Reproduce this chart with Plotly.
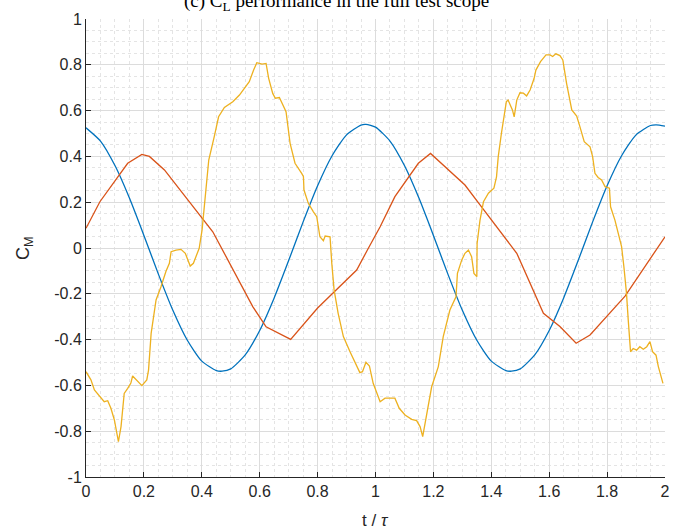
import plotly.graph_objects as go

# ---- data ----
blue_t = [0.0, 0.05, 0.1, 0.15, 0.2, 0.25, 0.3, 0.35, 0.4, 0.45, 0.47, 0.5, 0.55, 0.6, 0.65, 0.7, 0.75, 0.8, 0.85, 0.9, 0.95, 0.967,
          1.0, 1.05, 1.1, 1.15, 1.2, 1.25, 1.3, 1.35, 1.4, 1.45, 1.47, 1.5, 1.55, 1.6, 1.65, 1.7, 1.75, 1.8, 1.85, 1.9, 1.95, 1.97, 2.0]
blue_v = [0.525, 0.467, 0.360, 0.218, 0.055, -0.114, -0.272, -0.403, -0.494, -0.535, -0.538, -0.528, -0.467, -0.360, -0.218, -0.055, 0.114, 0.272, 0.403, 0.494, 0.537, 0.540,
          0.528, 0.467, 0.360, 0.218, 0.055, -0.114, -0.272, -0.403, -0.494, -0.535, -0.538, -0.528, -0.467, -0.360, -0.218, -0.055, 0.114, 0.272, 0.403, 0.494, 0.535, 0.538, 0.532]

orange_t = [0.0, 0.048, 0.144, 0.193, 0.219, 0.271, 0.438, 0.509, 0.576, 0.622, 0.707, 0.80, 0.935, 0.972, 1.016, 1.067,
            1.148, 1.19, 1.309, 1.361, 1.488, 1.58, 1.637, 1.693, 1.741, 1.862, 1.971, 2.0]
orange_v = [0.086, 0.202, 0.370, 0.409, 0.400, 0.341, 0.071, -0.096, -0.256, -0.344, -0.399, -0.262, -0.096, -0.009, 0.093, 0.224,
            0.370, 0.413, 0.275, 0.188, -0.023, -0.285, -0.343, -0.416, -0.380, -0.210, -0.009, 0.049]

yellow_t = [0.0, 0.017, 0.029, 0.052, 0.063, 0.075, 0.086, 0.098, 0.112, 0.121, 0.132, 0.144, 0.155, 0.161, 0.173, 0.193,
            0.210, 0.216, 0.225, 0.242, 0.259, 0.276, 0.288, 0.294, 0.311, 0.328, 0.343, 0.351, 0.360, 0.371, 0.391,
            0.401, 0.415, 0.424, 0.443, 0.458, 0.478, 0.507, 0.530, 0.547, 0.564, 0.579, 0.590, 0.599, 0.608, 0.622,
            0.631, 0.645, 0.654, 0.668, 0.691, 0.705, 0.722, 0.745, 0.751, 0.753, 0.768, 0.785, 0.797, 0.808, 0.820,
            0.826, 0.843, 0.849, 0.857, 0.871, 0.889, 0.912, 0.929, 0.946, 0.955, 0.967, 0.979, 0.992, 1.016, 1.033,
            1.067, 1.082, 1.102, 1.125, 1.142, 1.154, 1.163, 1.177, 1.194, 1.217, 1.234, 1.257, 1.278, 1.283, 1.298,
            1.309, 1.321, 1.332, 1.340, 1.350, 1.351, 1.361, 1.373, 1.390, 1.409, 1.418, 1.424, 1.435, 1.452, 1.458,
            1.473, 1.479, 1.488, 1.499, 1.511, 1.522, 1.534, 1.548, 1.554, 1.570, 1.589, 1.603, 1.612, 1.623, 1.637,
            1.647, 1.660, 1.678, 1.695, 1.706, 1.721, 1.741, 1.750, 1.758, 1.769, 1.781, 1.793, 1.808, 1.812, 1.827,
            1.839, 1.850, 1.858, 1.867, 1.873, 1.881, 1.890, 1.902, 1.913, 1.925, 1.937, 1.948, 1.957, 1.969, 1.977,
            1.993]
yellow_v = [-0.540, -0.576, -0.620, -0.656, -0.671, -0.667, -0.700, -0.751, -0.846, -0.780, -0.635, -0.613, -0.590, -0.559, -0.576, -0.601,
            -0.576, -0.533, -0.373, -0.227, -0.169, -0.103, -0.067, -0.016, -0.009, -0.006, -0.023, -0.052, -0.079, -0.067, -0.001,
            0.079, 0.253, 0.384, 0.486, 0.573, 0.614, 0.639, 0.668, 0.697, 0.726, 0.777, 0.809, 0.806, 0.803, 0.806,
            0.741, 0.675, 0.654, 0.657, 0.595, 0.457, 0.370, 0.326, 0.312, 0.253, 0.195, 0.159, 0.137, 0.049, 0.032,
            0.052, 0.049, -0.067, -0.183, -0.285, -0.387, -0.453, -0.497, -0.544, -0.540, -0.499, -0.515, -0.591, -0.671, -0.656,
            -0.656, -0.700, -0.729, -0.748, -0.754, -0.780, -0.824, -0.722, -0.606, -0.518, -0.387, -0.271, -0.213, -0.111, -0.052,
            -0.023, -0.009, -0.038, -0.111, -0.125, 0.020, 0.122, 0.202, 0.239, 0.261, 0.311, 0.399, 0.501, 0.639, 0.646,
            0.603, 0.573, 0.646, 0.678, 0.676, 0.664, 0.690, 0.741, 0.777, 0.814, 0.843, 0.843, 0.836, 0.848, 0.840,
            0.821, 0.719, 0.603, 0.576, 0.530, 0.464, 0.442, 0.399, 0.326, 0.308, 0.297, 0.268, 0.261, 0.180, 0.122,
            0.064, 0.006, -0.082, -0.198, -0.314, -0.453, -0.439, -0.446, -0.431, -0.442, -0.431, -0.409, -0.453, -0.468, -0.518,
            -0.591]

x_ticks = [0, 0.2, 0.4, 0.6, 0.8, 1, 1.2, 1.4, 1.6, 1.8, 2]
x_tick_text = ["0", "0.2", "0.4", "0.6", "0.8", "1", "1.2", "1.4", "1.6", "1.8", "2"]
y_ticks = [-1, -0.8, -0.6, -0.4, -0.2, 0, 0.2, 0.4, 0.6, 0.8, 1]
y_tick_text = ["-1", "-0.8", "-0.6", "-0.4", "-0.2", "0", "0.2", "0.4", "0.6", "0.8", "1"]

title_text = "(c) C<sub>L</sub> performance in the full test scope"
x_label = "t / <i>τ</i>"
y_label = "C<sub>M</sub>"

BLUE = "#0072BD"
ORANGE = "#D95319"
YELLOW = "#EDB120"
TXT = "#262626"

fig = go.Figure()
fig.add_trace(go.Scatter(x=blue_t, y=blue_v, mode="lines", line=dict(color=BLUE, width=1.3, shape="spline", smoothing=0.6)))
fig.add_trace(go.Scatter(x=orange_t, y=orange_v, mode="lines", line=dict(color=ORANGE, width=1.3)))
fig.add_trace(go.Scatter(x=yellow_t, y=yellow_v, mode="lines", line=dict(color=YELLOW, width=1.3)))

axis_common = dict(
    showgrid=True, gridcolor="#dcdcdc", gridwidth=1,
    showline=True, linecolor=TXT, linewidth=1,
    ticks="inside", ticklen=5, tickcolor=TXT,
    tickfont=dict(family="Liberation Sans, Arial", size=16, color=TXT),
    zeroline=False, mirror=False, automargin=False,
    minor=dict(showgrid=True, gridcolor="#e4e4e4", griddash="dot", gridwidth=1, dtick=0.05),
)

fig.update_xaxes(range=[0, 2], tickvals=x_ticks, ticktext=x_tick_text, **axis_common)
fig.update_yaxes(range=[-1, 1], tickvals=y_ticks, ticktext=y_tick_text, **axis_common)

H_PLOT = 532 - 19 - 55
W_PLOT = 686 - 86 - 21
fig.update_layout(
    width=686, height=532,
    margin=dict(l=86, r=21, t=19, b=55, autoexpand=False),
    paper_bgcolor="white", plot_bgcolor="white",
    showlegend=False,
    annotations=[
        dict(text=title_text, xref="paper", yref="paper", x=(336 - 86) / W_PLOT, y=1 + 3 / H_PLOT,
             xanchor="center", yanchor="bottom", showarrow=False,
             font=dict(family="Liberation Serif", size=19, color="black")),
        dict(text=x_label, xref="paper", yref="paper", x=0.5, y=-(520 - 477) / H_PLOT,
             xanchor="center", yanchor="middle", showarrow=False,
             font=dict(family="Liberation Sans, Arial", size=17, color=TXT)),
        dict(text=y_label, xref="paper", yref="paper", x=-(86 - 24) / W_PLOT, y=0.5,
             xanchor="center", yanchor="middle", showarrow=False, textangle=-90,
             font=dict(family="Liberation Sans, Arial", size=18, color=TXT)),
    ],
)

fig.write_html("out.html", config={"displayModeBar": False},
               post_script="document.body.style.margin='0px';document.body.style.padding='0px';")
